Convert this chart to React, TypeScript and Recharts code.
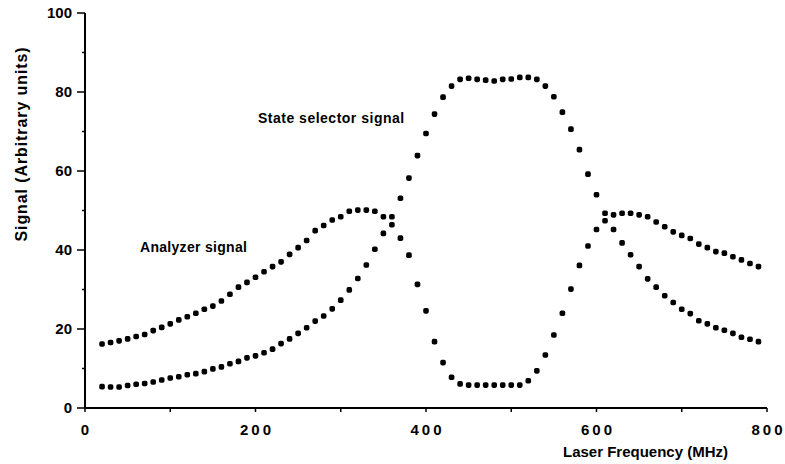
import { Customized, Scatter, ScatterChart, XAxis, YAxis } from "recharts";

const freq = [
  20, 30, 40, 50, 60, 70, 80, 90, 100, 110, 120, 130, 140, 150, 160, 170, 180,
  190, 200, 210, 220, 230, 240, 250, 260, 270, 280, 290, 300, 310, 320, 330,
  340, 350, 360, 370, 380, 390, 400, 410, 420, 430, 440, 450, 460, 470, 480,
  490, 500, 510, 520, 530, 540, 550, 560, 570, 580, 590, 600, 610, 620, 630,
  640, 650, 660, 670, 680, 690, 700, 710, 720, 730, 740, 750, 760, 770, 780,
  790,
];

const analyzer = [
  16.2, 16.6, 17.0, 17.5, 18.1, 18.6, 19.6, 20.4, 21.3, 22.3, 23.1, 24.0, 25.0,
  25.8, 27.1, 28.8, 30.6, 31.8, 33.1, 34.5, 35.8, 37.0, 38.9, 40.6, 42.4, 44.9,
  46.2, 47.6, 48.4, 49.8, 50.1, 50.1, 49.8, 48.4, 46.4, 43.0, 38.7, 31.3, 24.6,
  16.8, 11.5, 7.8, 6.1, 5.8, 5.8, 5.8, 5.8, 5.8, 5.8, 5.8, 6.9, 9.4, 13.4, 18.5,
  24.0, 30.1, 36.1, 41.0, 45.2, 47.4, 48.9, 49.3, 49.3, 48.9, 48.4, 47.1, 45.9,
  44.6, 43.7, 42.9, 41.5, 40.6, 39.6, 39.2, 38.3, 37.5, 36.6, 35.8,
];

const stateSelector = [
  5.4, 5.3, 5.3, 5.7, 6.0, 6.2, 6.6, 7.1, 7.6, 7.9, 8.4, 8.7, 9.2, 9.9, 10.4,
  11.2, 11.8, 12.7, 13.2, 14.0, 14.9, 16.3, 17.5, 18.9, 20.3, 22.0, 23.3, 25.1,
  27.3, 29.9, 32.8, 36.2, 40.2, 44.2, 48.4, 53.1, 58.2, 63.9, 69.5, 74.4, 78.7,
  81.5, 83.2, 83.5, 83.2, 83.0, 82.8, 83.2, 83.3, 83.7, 83.7, 83.2, 81.5, 78.8,
  74.9, 70.6, 65.4, 59.2, 54.0, 49.3, 45.2, 41.8, 38.8, 35.8, 32.7, 30.6, 28.4,
  26.7, 25.0, 23.9, 22.1, 21.3, 20.3, 19.7, 18.9, 17.9, 17.4, 16.8,
];

const xTicks = [0, 100, 200, 300, 400, 500, 600, 700, 800];
const yTicks = [0, 10, 20, 30, 40, 50, 60, 70, 80, 90, 100];

const analyzerData = freq.map((f, i) => ({ x: f, y: analyzer[i] }));
const selectorData = freq.map((f, i) => ({ x: f, y: stateSelector[i] }));

const FONT = "'Liberation Sans', Arial, sans-serif";

// plot box edges (margin + axis size)
const AXIS_X = 85;
const AXIS_Y = 408;

const Dot = (props: any) => (
  <rect
    x={props.cx - 2.8}
    y={props.cy - 2.8}
    width={5.6}
    height={5.6}
    rx={1.8}
    fill="#000"
  />
);

const YTick = (props: any) => {
  const { y, payload } = props;
  const major = payload.value % 20 === 0;
  return (
    <g>
      <line
        x1={AXIS_X - (major ? 8 : 3)}
        y1={y}
        x2={AXIS_X}
        y2={y}
        stroke="#000"
        strokeWidth={1.5}
      />
      {major && (
        <text
          x={AXIS_X - 13}
          y={y + 5}
          textAnchor="end"
          fontFamily={FONT}
          fontSize={15}
          fontWeight="bold"
          fill="#000"
        >
          {payload.value}
        </text>
      )}
    </g>
  );
};

const XTick = (props: any) => {
  const { x, payload } = props;
  const major = payload.value % 200 === 0;
  return (
    <g>
      <line x1={x} y1={AXIS_Y} x2={x} y2={AXIS_Y + 4} stroke="#000" strokeWidth={1.5} />
      {major && (
        <text
          x={x + 1.5}
          y={AXIS_Y + 27}
          textAnchor="middle"
          fontFamily={FONT}
          fontSize={15}
          fontWeight="bold"
          letterSpacing={3}
          fill="#000"
        >
          {payload.value}
        </text>
      )}
    </g>
  );
};

const Labels = () => (
  <g fontFamily={FONT} fontWeight="bold" fill="#000">
    <text x={258} y={123} fontSize={14} letterSpacing={0.5}>
      State selector signal
    </text>
    <text x={140} y={252} fontSize={14} letterSpacing={0.3}>
      Analyzer signal
    </text>
    <text x={563} y={457} fontSize={15}>
      Laser Frequency (MHz)
    </text>
    <text
      transform="translate(27, 144) rotate(-90)"
      textAnchor="middle"
      fontSize={16}
      letterSpacing={0.9}
    >
      Signal (Arbitrary units)
    </text>
  </g>
);

const App = () => {
  return (
    <div style={{ position: "absolute", left: 0, top: 0, background: "#fff" }}>
      <ScatterChart
        width={785}
        height={464}
        margin={{ top: 13, right: 18, left: 40, bottom: 26 }}
      >
        <XAxis
          type="number"
          dataKey="x"
          domain={[0, 800]}
          ticks={xTicks}
          height={30}
          tickSize={0}
          tickMargin={0}
          tickLine={false}
          tick={<XTick />}
          axisLine={{ stroke: "#000", strokeWidth: 2 }}
        />
        <YAxis
          type="number"
          dataKey="y"
          domain={[0, 100]}
          ticks={yTicks}
          width={45}
          tickSize={0}
          tickMargin={0}
          tickLine={false}
          tick={<YTick />}
          axisLine={{ stroke: "#000", strokeWidth: 2 }}
        />
        <Scatter
          name="Analyzer signal"
          data={analyzerData}
          shape={<Dot />}
          isAnimationActive={false}
        />
        <Scatter
          name="State selector signal"
          data={selectorData}
          shape={<Dot />}
          isAnimationActive={false}
        />
        <Customized component={<Labels />} />
      </ScatterChart>
    </div>
  );
};

export default App;
